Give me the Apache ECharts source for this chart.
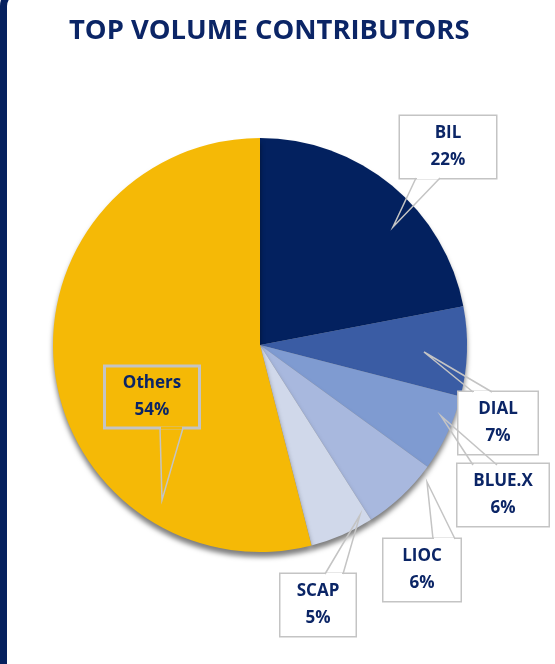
<!DOCTYPE html>
<html>
<head>
<meta charset="utf-8">
<script src="https://cdn.jsdelivr.net/npm/echarts@6/dist/echarts.min.js"></script>
<style>
	html, body { margin: 0; padding: 0; background: #fff; }
	#wrap { position: relative; width: 555px; height: 664px; overflow: hidden; }
	#edge { position: absolute; left: 0; top: -14px; width: 20px; height: 700px;
		border-left: 7px solid #06215e; border-top: 8px solid #06215e; border-top-left-radius: 20px; }
	#main { position: absolute; left: 0; top: 0; width: 555px; height: 664px; }
</style>
</head>
<body>
<div id="wrap">
	<div id="main"></div>
	<div id="edge"></div>
</div>
<script>
// 数据
var categories = ['BIL', 'DIAL', 'BLUE.X', 'LIOC', 'SCAP', 'Others'];
var shares = [22, 7, 6, 6, 5, 54];

// 样式 / 标注位置
var sliceColors = ['#03215f', '#3a5ca4', '#7f9bd1', '#a8b8de', '#d0d8ea', '#f5b906'];
var boxCenters = [[448, 147], [498, 423], [503, 495], [422, 570], [318, 605], [152, 397]];
var boxWidths = [96, 79, 91, 77, 75, 95];
// 标注的尖角: [底边点A, 尖端, 底边点B]
var calloutLines = [
	[[416, 178], [393, 227], [440, 178]],
	[[473, 392], [424, 352], [492, 392]],
	[[473, 465], [441, 416], [497, 465]],
	[[433, 539], [427, 482], [455, 539]],
	[[325, 574], [360, 515], [343, 574]],
	[[160, 428], [162, 500], [183, 428]]
];

var navy = '#0b2566';
var calloutGrey = '#c4c4c4';

var chart = echarts.init(document.getElementById('main'));

var pieData = categories.map(function (name, i) {
	return {
		name: name,
		value: shares[i],
		itemStyle: { color: sliceColors[i] },
		label: {
			width: boxWidths[i],
			backgroundColor: name === 'Others' ? 'transparent' : '#fff'
		}
	};
});

// 尖角: 先用底色盖住框的边, 再画两条边
var calloutGraphics = [];
calloutLines.forEach(function (pts, i) {
	var cover = categories[i] === 'Others' ? sliceColors[i] : '#fff';
	calloutGraphics.push({
		type: 'line', z: 10, silent: true,
		shape: { x1: pts[0][0] + 1, y1: pts[0][1], x2: pts[2][0] - 1, y2: pts[2][1] },
		style: { stroke: cover, lineWidth: 2.5 }
	});
	calloutGraphics.push({
		type: 'polyline', z: 11, silent: true,
		shape: { points: pts },
		style: { stroke: calloutGrey, lineWidth: 1.5, fill: null }
	});
});

var option = {
	backgroundColor: '#fff',
	animation: false,
	title: {
		text: 'TOP VOLUME CONTRIBUTORS',
		left: 64,
		top: 13,
		textStyle: {
			color: navy,
			fontFamily: 'Open Sans',
			fontWeight: 'bold',
			fontSize: 27.4
		}
	},
	graphic: calloutGraphics,
	series: [
		{
			type: 'pie',
			center: [260, 345],
			radius: 207,
			startAngle: 90,
			clockwise: true,
			avoidLabelOverlap: false,
			itemStyle: {
				shadowColor: 'rgba(0,0,0,0.5)',
				shadowBlur: 5,
				shadowOffsetY: 5
			},
			label: {
				show: true,
				position: 'outside',
				formatter: '{b}\n{c}%',
				color: navy,
				fontFamily: 'Open Sans',
				fontWeight: 'bold',
				fontSize: 17,
				lineHeight: 27,
				align: 'center',
				padding: [4, 0],
				borderColor: calloutGrey,
				borderWidth: 1.5
			},
			labelLine: { show: false },
			labelLayout: function (params) {
				var i = params.dataIndex;
				return {
					x: boxCenters[i][0],
					y: boxCenters[i][1],
					align: 'center',
					verticalAlign: 'middle'
				};
			},
			emphasis: { disabled: true },
			data: pieData
		}
	]
};

chart.setOption(option);
</script>
</body>
</html>
